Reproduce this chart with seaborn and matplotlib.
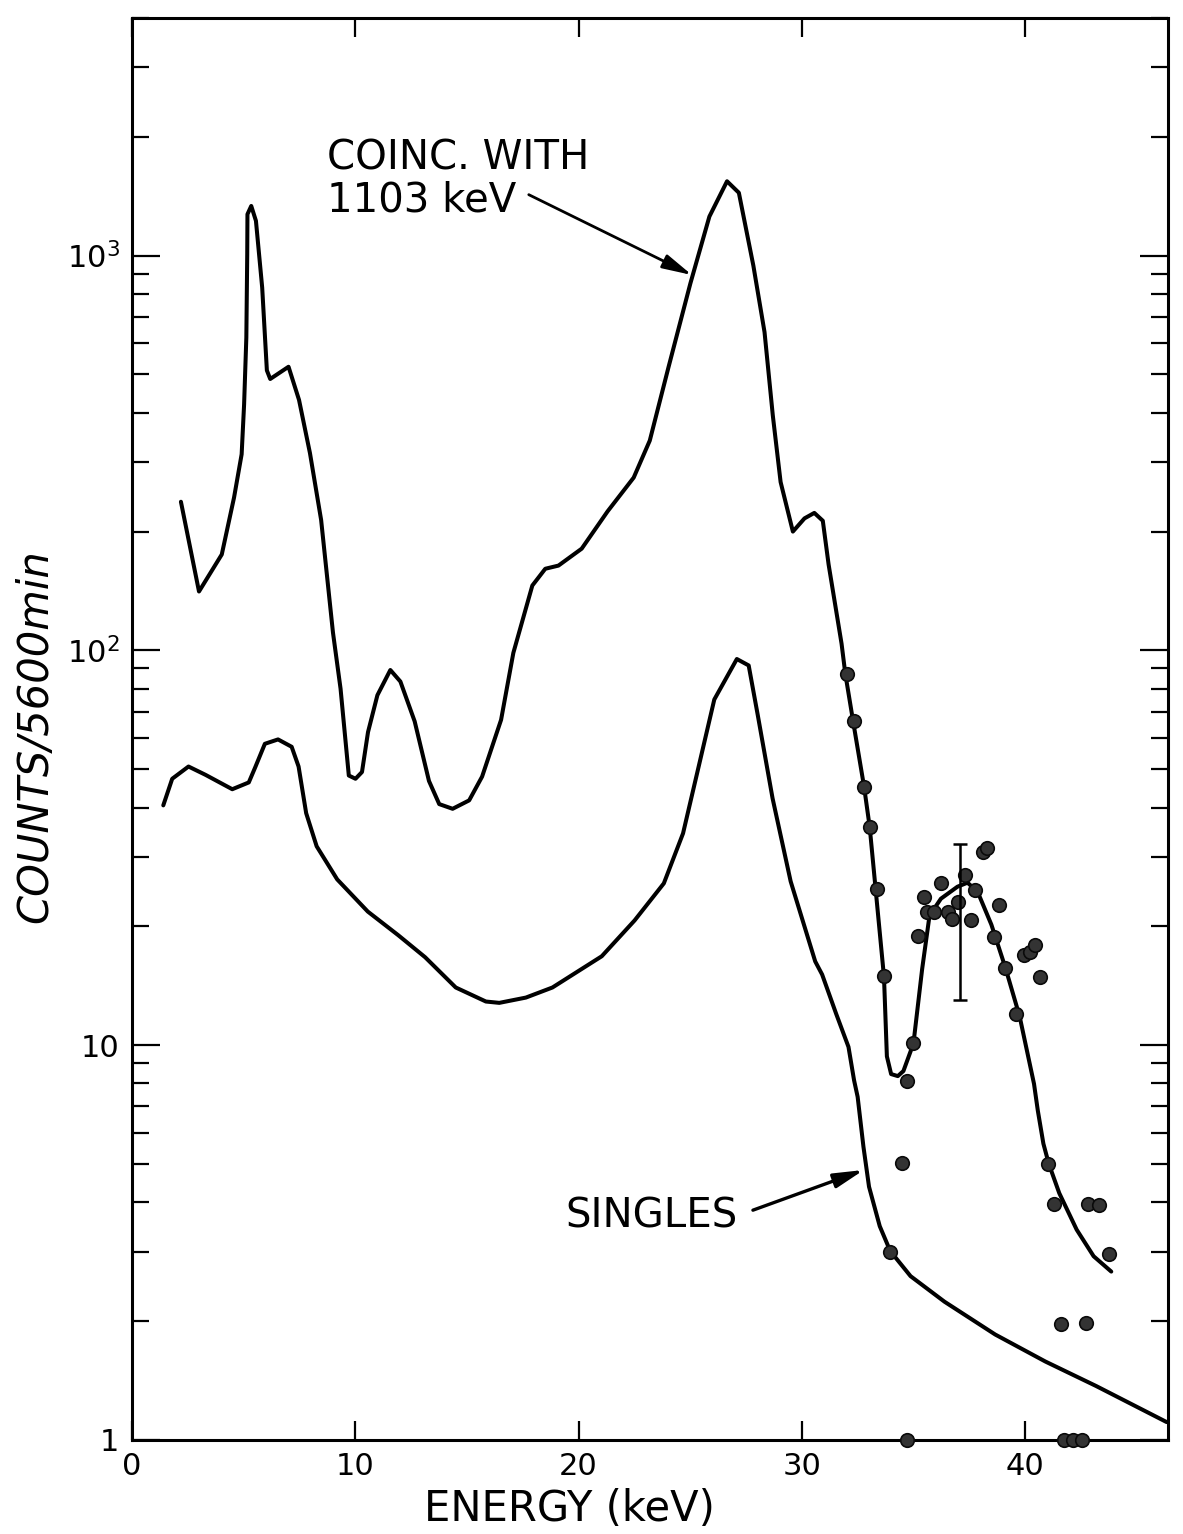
import matplotlib
matplotlib.use("Agg")
import matplotlib.pyplot as plt
from matplotlib.ticker import LogLocator, NullFormatter, NullLocator, FixedLocator
import seaborn as sns
import pandas as pd

# ---- data ----
coinc_x = [2.19, 3.00, 4.02, 4.57, 4.91, 5.02, 5.12, 5.16, 5.17, 5.34, 5.55, 5.83, 6.04, 6.19, 7.01,
           7.48, 7.97, 8.47, 9.00, 9.34, 9.71, 10.01, 10.30, 10.57, 10.99, 11.57, 12.02, 12.66, 13.30,
           13.76, 14.36, 15.10, 15.68, 16.53, 17.08, 17.93, 18.51, 19.10, 20.14, 21.30, 22.47, 23.19,
           24.03, 25.01, 25.86, 26.65, 27.18, 27.83, 28.33, 28.70, 29.05, 29.60, 30.12, 30.56, 30.94,
           31.20, 31.78, 31.95, 32.29, 32.79, 33.04, 33.31, 33.68, 33.81, 34.00, 34.30, 34.55, 35.00,
           35.39, 35.72, 36.23, 36.97, 37.42, 37.87, 38.49, 39.12, 39.76, 40.40, 40.57, 40.82, 41.06,
           41.53, 42.31, 43.07, 43.86]
coinc_y = [238, 141, 175, 244, 314, 420, 620, 1007, 1273, 1336, 1225, 830, 512, 487, 523,
           431, 316, 214, 111, 80, 48.2, 47.3, 49.2, 62.1, 77, 89.2, 83.4, 66.1, 46.7,
           40.8, 39.7, 41.7, 47.9, 66.7, 98.6, 146, 161, 164, 181, 225, 274, 340,
           522, 851, 1256, 1543, 1443, 943, 640, 394, 267, 200, 216, 223, 213,
           165, 104, 87.1, 66.5, 45.1, 35.7, 24.7, 14.9, 9.37, 8.45, 8.35, 8.6, 10.1,
           15.6, 21.3, 23.5, 25.2, 25.8, 24.5, 20.2, 15.7, 11.8, 7.98, 6.83, 5.63, 5.01,
           4.22, 3.41, 2.92, 2.67]

singles_x = [1.40, 1.80, 2.53, 3.29, 4.49, 5.23, 5.52, 5.95, 6.54, 7.15, 7.46, 7.80, 8.27, 9.19,
             10.56, 11.92, 13.13, 14.50, 15.85, 16.45, 17.64, 18.83, 21.04, 22.51, 23.82, 24.68,
             25.38, 26.08, 27.09, 27.62, 28.03, 28.69, 29.50, 30.60, 30.91, 31.54, 32.09, 32.34,
             32.50, 32.76, 33.01, 33.49, 33.96, 34.87, 36.39, 38.66, 40.91, 43.18, 46.34]
singles_y = [40.5, 47.3, 50.8, 48.4, 44.5, 46.3, 50.6, 58.0, 59.5, 57.0, 50.8, 38.7, 31.9, 26.3,
             21.8, 19.0, 16.7, 14.0, 12.9, 12.8, 13.2, 14.0, 16.8, 20.7, 25.7, 34.4,
             50.8, 75.1, 95.1, 91.6, 68.4, 42.2, 26.0, 16.3, 15.1, 12.0, 9.9, 8.15,
             7.40, 5.53, 4.38, 3.48, 3.01, 2.60, 2.24, 1.85, 1.58, 1.37, 1.11]

points_x = [32.03, 32.32, 32.79, 33.04, 33.35, 33.66, 34.72, 35.00, 35.22, 35.48, 35.62, 35.94,
            36.22, 36.54, 36.73, 37.01, 37.33, 37.59, 37.76, 38.11, 38.28, 38.85, 38.60, 39.12,
            39.93, 40.22, 40.45, 40.69, 39.60, 41.03, 41.31, 42.81, 43.30, 43.74, 41.63, 42.72,
            34.49, 33.96, 34.70, 41.75, 42.15, 42.55]
points_y = [86.9, 66.3, 45.2, 35.8, 24.8, 15.0, 8.12, 10.1, 18.9, 23.7, 21.7, 21.7,
            25.8, 21.7, 20.9, 23.1, 27.0, 20.8, 24.7, 30.8, 31.6, 22.6, 18.8, 15.7,
            16.9, 17.2, 17.9, 14.9, 12.0, 5.0, 3.97, 3.95, 3.93, 2.96, 1.97, 1.98,
            5.02, 3.0, 1.0, 1.0, 1.0, 1.0]

errbar_x = 37.1
errbar_center = 20.5
errbar_low = 13.0
errbar_high = 32.4

x_ticks = [0, 10, 20, 30, 40]
y_ticks = [1, 10, 100, 1000]
y_tick_labels = ["1", "10", r"$\mathregular{10^2}$", r"$\mathregular{10^3}$"]

coinc_label = "COINC. WITH\n1103 keV"
coinc_arrow_from = (17.77, 1427)
coinc_arrow_to = (25.08, 893)
singles_label = "SINGLES"
singles_arrow_from = (27.81, 3.82)
singles_arrow_to = (32.78, 4.83)

# ---- drawing ----
sns.set_style("ticks")
plt.rcParams["font.family"] = ["DejaVu Sans"]
plt.rcParams["mathtext.default"] = "regular"
for key in ["text.color", "axes.labelcolor", "xtick.color", "ytick.color", "axes.edgecolor"]:
    plt.rcParams[key] = "black"

fig = plt.figure(figsize=(11.83, 15.34), dpi=100)
ax = fig.add_axes([0.1116, 0.0613, 0.8757, 0.927])

df_c = pd.DataFrame({"E": coinc_x, "C": coinc_y})
df_s = pd.DataFrame({"E": singles_x, "C": singles_y})
df_p = pd.DataFrame({"E": points_x, "C": points_y})

line_kw = dict(sort=False, estimator=None, color="black", lw=2.9,
               solid_joinstyle="round", solid_capstyle="round", ax=ax)
sns.lineplot(data=df_c, x="E", y="C", **line_kw)
sns.lineplot(data=df_s, x="E", y="C", **line_kw)
sns.scatterplot(data=df_p, x="E", y="C", s=95, color="#333333", edgecolor="#0a0a0a",
                linewidth=1.2, ax=ax, clip_on=False, zorder=5)

ax.errorbar([errbar_x], [errbar_center],
            yerr=[[errbar_center - errbar_low], [errbar_high - errbar_center]],
            fmt="none", ecolor="black", elinewidth=1.8, capsize=5, capthick=1.8, zorder=6)

ax.set_yscale("log")
ax.set_xlim(0, 46.4)
ax.set_ylim(1, 4000)

ax.xaxis.set_major_locator(FixedLocator(x_ticks))
ax.xaxis.set_minor_locator(NullLocator())
ax.set_xticklabels([str(t) for t in x_ticks])
ax.yaxis.set_major_locator(FixedLocator(y_ticks))
ax.set_yticklabels(y_tick_labels)
ax.yaxis.set_minor_locator(LogLocator(base=10, subs=[2, 3, 4, 5, 6, 7, 8, 9]))
ax.yaxis.set_minor_formatter(NullFormatter())

ax.tick_params(axis="x", which="major", direction="in", length=14, width=1.6,
               top=True, bottom=True, labelsize=22, pad=9, colors="black")
ax.tick_params(axis="y", which="major", direction="in", length=20, width=1.6,
               left=True, right=True, labelsize=22, pad=9, colors="black")
ax.tick_params(axis="y", which="minor", direction="in", length=12, width=1.6,
               left=True, right=True, colors="black")

for sp in ax.spines.values():
    sp.set_visible(True)
    sp.set_linewidth(2.2)
    sp.set_color("black")

ax.set_xlabel("")
ax.set_ylabel("")
fig.text(0.481, 0.0085, "ENERGY (keV)", ha="center", va="baseline", fontsize=30, color="black")
fig.text(0.03, 0.52, "COUNTS/5600min", rotation=90, ha="center", va="center",
         fontsize=30, style="italic", color="black")

arrow_style = "-|>,head_length=0.9,head_width=0.22"
fig.text(0.276, 0.910, coinc_label, ha="left", va="top", fontsize=29, linespacing=1.08,
         color="black")
ax.annotate("", xy=coinc_arrow_to, xytext=coinc_arrow_from,
            arrowprops=dict(arrowstyle=arrow_style, color="black",
                            lw=2.0, mutation_scale=20, shrinkA=0, shrinkB=0))

fig.text(0.4776, 0.1995, singles_label, ha="left", va="baseline", fontsize=29, color="black")
ax.annotate("", xy=singles_arrow_to, xytext=singles_arrow_from,
            arrowprops=dict(arrowstyle=arrow_style, color="black",
                            lw=2.4, mutation_scale=20, shrinkA=0, shrinkB=0))

fig.savefig("out.png", dpi=100)
